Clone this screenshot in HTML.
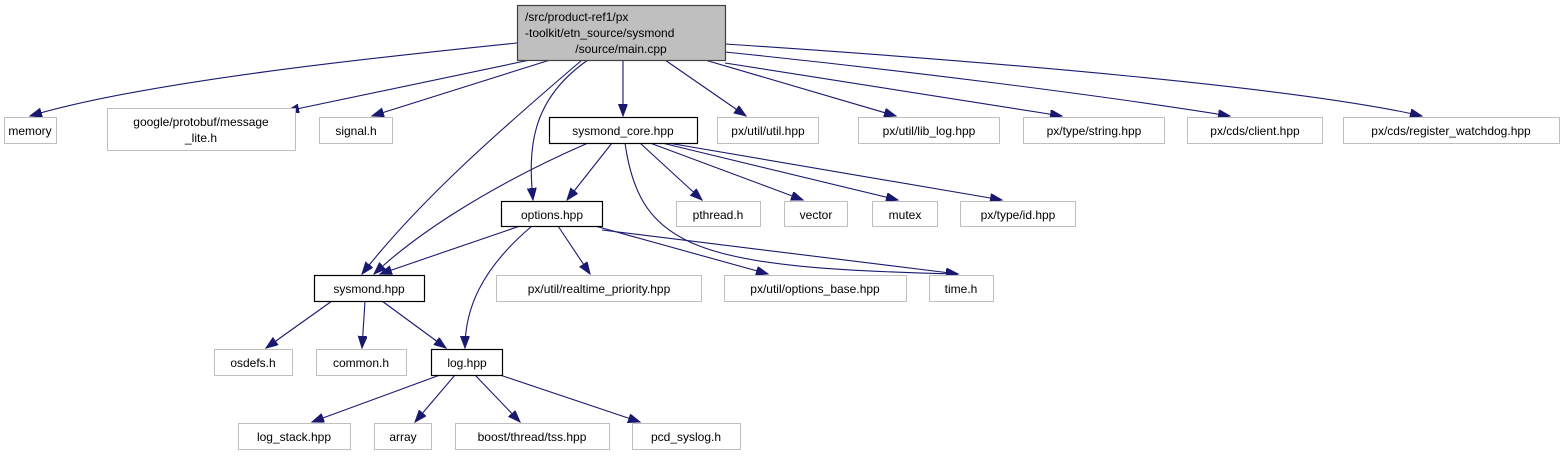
<!DOCTYPE html>
<html><head><meta charset="utf-8"><style>
body{margin:0;background:#fff;width:1565px;height:456px;overflow:hidden}
svg{display:block}
text{font-family:"Liberation Sans",sans-serif;font-size:12px;fill:#000}
.g{fill:#fff;stroke:#bfbfbf;stroke-width:1}
.b{fill:#fff;stroke:#000;stroke-width:1.2}
path{fill:none;stroke:#191970;stroke-width:1.1}
</style></head><body>
<svg width="1565" height="456" viewBox="0 0 1565 456">
<defs><marker id="a" markerUnits="userSpaceOnUse" markerWidth="14" markerHeight="10" refX="12" refY="4.5" orient="auto"><polygon points="0,0 12,4.5 0,9" fill="#191970" stroke="#191970"/></marker></defs>
<g marker-end="url(#a)">
<path d="M517,43 C400,55 150,80 30,116"/>
<path d="M530,60 L287,111"/>
<path d="M550,60 L372,116"/>
<path d="M623,60 L623,116"/>
<path d="M665,60 L746,116"/>
<path d="M705,60 L896,116"/>
<path d="M725,63 L1062,116"/>
<path d="M725,52 C900,70 1100,95 1230,116"/>
<path d="M725,44 C1000,62 1300,88 1422,116"/>
<path d="M588,60 C530,100 528,150 533,200"/>
<path d="M582,60 C500,130 420,200 362,274"/>
<path d="M612,143 L567,200"/>
<path d="M588,143 C480,190 410,240 374,274"/>
<path d="M640,143 L702,200"/>
<path d="M650,143 L803,200"/>
<path d="M662,143 L898,200"/>
<path d="M668,143 L1002,200"/>
<path d="M625,143 C640,250 700,268 958,274"/>
<path d="M520,226 L380,274"/>
<path d="M532,226 C480,270 465,310 465,348"/>
<path d="M558,226 L590,274"/>
<path d="M595,226 L768,274"/>
<path d="M602,230 L958,274"/>
<path d="M332,301 L266,348"/>
<path d="M365,301 L362,348"/>
<path d="M382,301 L446,348"/>
<path d="M440,375 L312,422"/>
<path d="M455,375 L415,422"/>
<path d="M475,375 L520,422"/>
<path d="M500,375 L640,422"/>
</g>
<rect x="517.5" y="5.5" width="208" height="55" fill="#bfbfbf" stroke="#404040" stroke-width="1.2"/>
<text x="525" y="21">/src/product-ref1/px</text>
<text x="525" y="37">-toolkit/etn_source/sysmond</text>
<text x="621" y="53" text-anchor="middle">/source/main.cpp</text>
<g text-anchor="middle">
<rect class="g" x="4.5" y="117.5" width="52" height="26"/><text x="30" y="135">memory</text>
<rect class="g" x="107.5" y="108.5" width="188" height="42"/><text x="201" y="126">google/protobuf/message</text><text x="201" y="142">_lite.h</text>
<rect class="g" x="319.5" y="117.5" width="73" height="26"/><text x="356" y="135">signal.h</text>
<rect class="b" x="549.5" y="117.5" width="148" height="26"/><text x="623" y="135">sysmond_core.hpp</text>
<rect class="g" x="717.5" y="117.5" width="101" height="26"/><text x="768" y="135">px/util/util.hpp</text>
<rect class="g" x="858.5" y="117.5" width="141" height="26"/><text x="929" y="135">px/util/lib_log.hpp</text>
<rect class="g" x="1023.5" y="117.5" width="141" height="26"/><text x="1094" y="135">px/type/string.hpp</text>
<rect class="g" x="1187.5" y="117.5" width="135" height="26"/><text x="1255" y="135">px/cds/client.hpp</text>
<rect class="g" x="1343.5" y="117.5" width="216" height="26"/><text x="1451" y="135">px/cds/register_watchdog.hpp</text>
<rect class="b" x="501.5" y="201.5" width="101" height="25"/><text x="552" y="219">options.hpp</text>
<rect class="g" x="676.5" y="201.5" width="84" height="25"/><text x="718" y="219">pthread.h</text>
<rect class="g" x="784.5" y="201.5" width="63" height="25"/><text x="816" y="219">vector</text>
<rect class="g" x="872.5" y="201.5" width="65" height="25"/><text x="905" y="219">mutex</text>
<rect class="g" x="960.5" y="201.5" width="115" height="25"/><text x="1018" y="219">px/type/id.hpp</text>
<rect class="b" x="314.5" y="275.5" width="110" height="26"/><text x="369" y="293">sysmond.hpp</text>
<rect class="g" x="496.5" y="275.5" width="205" height="26"/><text x="599" y="293">px/util/realtime_priority.hpp</text>
<rect class="g" x="724.5" y="275.5" width="182" height="26"/><text x="815" y="293">px/util/options_base.hpp</text>
<rect class="g" x="929.5" y="275.5" width="64" height="26"/><text x="961" y="293">time.h</text>
<rect class="g" x="214.5" y="349.5" width="78" height="26"/><text x="253" y="367">osdefs.h</text>
<rect class="g" x="316.5" y="349.5" width="90" height="26"/><text x="361" y="367">common.h</text>
<rect class="b" x="431.5" y="349.5" width="71" height="26"/><text x="467" y="367">log.hpp</text>
<rect class="g" x="238.5" y="423.5" width="112" height="26"/><text x="294" y="441">log_stack.hpp</text>
<rect class="g" x="374.5" y="423.5" width="57" height="26"/><text x="403" y="441">array</text>
<rect class="g" x="455.5" y="423.5" width="154" height="26"/><text x="532" y="441">boost/thread/tss.hpp</text>
<rect class="g" x="632.5" y="423.5" width="108" height="26"/><text x="686" y="441">pcd_syslog.h</text>
</g>
</svg>
</body></html>
